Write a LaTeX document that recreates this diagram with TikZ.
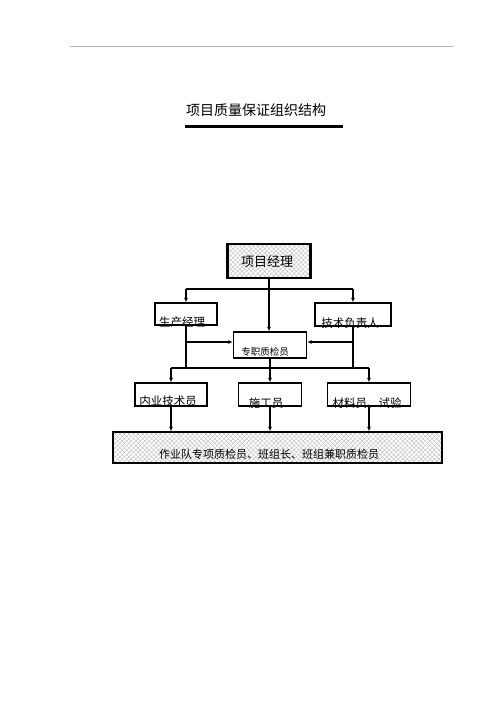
\documentclass[tikz,border=0pt]{standalone}
\usepackage{fontspec}
\newfontfamily\cjk{Noto Sans CJK SC}
\usetikzlibrary{patterns.meta,arrows.meta}
\begin{document}
\begin{tikzpicture}[x=1pt,y=-1pt,
  box/.style={draw=black,line width=1.4pt,rectangle,inner sep=0pt},
  hatchbox/.style={box,pattern={Hatch[angle=45,distance=3.2pt,line width=0.35pt]},pattern color=gray!55},
  lbl/.style={inner sep=0pt,font=\cjk\fontsize{11.5}{12}\selectfont},
  conn/.style={line width=1.6pt},
  arr/.style={line width=1.6pt,-{Latex[length=4.5pt,width=4pt]}},
  tiny/.style={inner sep=0pt,text=gray!70,font=\fontsize{4}{4}\selectfont}]
\useasboundingbox (0,0) rectangle (500,708);
% header
\coordinate (hl) at (70,46);
\coordinate (hr) at (453,46);
\draw[gray!60,line width=0.8pt] (hl) -- (hr);
\node[tiny] (hdot) at (262,42) {..};
\node[tiny] (fdot) at (72,663) {..};
% title
\node[inner sep=0pt,font=\cjk\fontsize{14}{14}\selectfont] (title) at (256,110) {项目质量保证组织结构};
\coordinate (ul) at (185,127);
\coordinate (ur) at (343,127);
\draw[line width=3pt] (ul) -- (ur);
% boxes
\node[hatchbox,line width=2.6pt,minimum width=83,minimum height=34] (pm) at (269,261) {};
\node[lbl,font=\cjk\fontsize{13}{13}\selectfont] (pmt) at (267,262) {项目经理};
\node[box,minimum width=62,minimum height=22] (sc) at (186,314) {};
\node[lbl] (sct) at (182,322) {生产经理};
\node[box,minimum width=76,minimum height=23] (js) at (353,314.5) {};
\node[lbl] (jst) at (350,323) {技术负责人};
\node[box,minimum width=73,minimum height=26] (zj) at (270,345) {};
\node[lbl,font=\cjk\fontsize{9.5}{10}\selectfont] (zjt) at (265,352) {专职质检员};
\node[box,minimum width=72,minimum height=23] (nj) at (171,394.5) {};
\node[lbl] (njt) at (168,401) {内业技术员};
\node[box,minimum width=63,minimum height=23] (sg) at (270,394.5) {};
\node[lbl] (sgt) at (266,403) {施工员};
\node[box,minimum width=83,minimum height=23] (cl) at (369,394.5) {};
\node[lbl] (clt) at (367,403) {材料员、试验};
\node[hatchbox,minimum width=329,minimum height=31] (big) at (277.5,447.5) {};
\node[lbl,font=\cjk\fontsize{11}{11}\selectfont] (bigt) at (269,454) {作业队专项质检员、班组长、班组兼职质检员};
% connectors
\coordinate (j1) at (269,289);
\coordinate (j2) at (270,368);
\coordinate (zjw) at ([yshift=3pt]zj.west);
\coordinate (zje) at ([yshift=3pt]zj.east);
\draw[conn] (sc.north |- j1) -- (js.north |- j1);
\draw[arr] (sc.north |- j1) -- (sc.north);
\draw[arr] (js.north |- j1) -- (js.north);
\draw[arr] (pm.south) -- (pm.south |- zj.north);
\draw[conn] (sc.south) -- (sc.south |- j2);
\draw[conn] (js.south) -- (js.south |- j2);
\draw[arr] (sc.south |- zjw) -- (zjw);
\draw[arr] (js.south |- zje) -- (zje);
\draw[conn] (nj.north |- j2) -- (cl.north |- j2);
\draw[arr] (nj.north |- j2) -- (nj.north);
\draw[arr] (cl.north |- j2) -- (cl.north);
\draw[arr] (zj.south) -- (sg.north);
\draw[arr] (nj.south) -- (nj.south |- big.north);
\draw[arr] (sg.south) -- (sg.south |- big.north);
\draw[arr] (cl.south) -- (cl.south |- big.north);
\end{tikzpicture}
\end{document}
